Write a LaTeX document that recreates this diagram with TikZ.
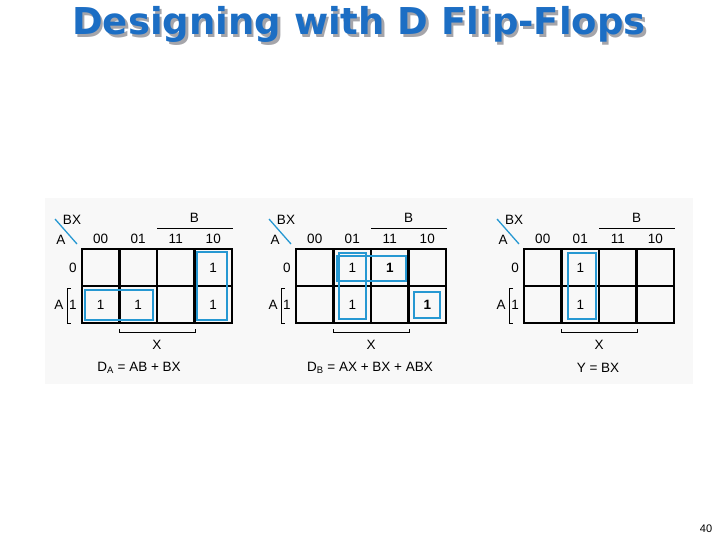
\documentclass[tikz,border=0pt]{standalone}
\usepackage{fontspec}
\setmainfont{Liberation Sans}
\newfontfamily\titlefont{DejaVu Sans}
\definecolor{titleblue}{RGB}{28,110,196}
\definecolor{titleshadow}{RGB}{165,165,170}
\definecolor{grpblue}{RGB}{38,152,210}
\definecolor{panel}{RGB}{248,248,248}
\tikzset{
  lbl/.style={inner sep=0pt, font=\fontsize{13.5}{15}\selectfont},
  bl/.style={inner sep=0pt, font=\fontsize{13.5}{15}\selectfont\bfseries},
  grid/.style={line width=2.6pt, black},
  thin/.style={line width=0.7pt, black},
  grp/.style={draw=grpblue, line width=2.4pt},
}
\newcommand{\kmapframe}[2]{%
  \begin{scope}[shift={(#2,0)}]
    \draw[grid] (0,249) rectangle (150,323);
    \draw[grid] (0,286) -- (150,286);
    \draw[grid] (37.5,249) -- (37.5,323);
    \draw[grid] (75,249) -- (75,323);
    \draw[grid] (112.5,249) -- (112.5,323);
    \node[lbl] (#1c0) at (18.75,239) {00};
    \node[lbl] (#1c1) at (56.25,239) {01};
    \node[lbl] (#1c2) at (93.75,239) {11};
    \node[lbl] (#1c3) at (131.25,239) {10};
    \node[lbl] (#1bx) at (-10,220) {BX};
    \node[lbl] (#1a) at (-21,240) {A};
    \coordinate (#1d1) at (-27,219);
    \coordinate (#1d2) at (-5,244);
    \draw[grpblue, line width=1.3pt] (#1d1) -- (#1d2);
    \node[lbl] (#1b) at (112.5,218) {B};
    \coordinate (#1bl) at (75,228);
    \coordinate (#1br) at (151,228);
    \draw[thin] (#1bl) -- (#1br);
    \node[lbl] (#1r0) at (-9,268) {0};
    \node[lbl] (#1r1) at (-9,305) {1};
    \node[lbl] (#1ar) at (-23,305) {A};
    \coordinate (#1k1) at (-11,288);
    \coordinate (#1k2) at (-11,323);
    \draw[thin] (#1k1) -- ++(-4,0) |- (#1k2);
    \coordinate (#1x1) at (37.5,329);
    \coordinate (#1x2) at (113,329);
    \draw[thin] (#1x1) -- ++(0,3) -| (#1x2);
    \node[lbl] (#1x) at (75,345) {X};
  \end{scope}}
\newcommand{\titletext}{Designing with D Flip-Flops}
\begin{document}
\begin{tikzpicture}[x=1pt,y=-1pt]
\useasboundingbox (0,0) rectangle (720,540);
\fill[white] (0,0) rectangle (720,540);
% title with shadow
\node[inner sep=0pt, font=\titlefont\bfseries\fontsize{37}{40}\selectfont] (title) at (359,26)
  {\rlap{\hspace{2.5pt}\raisebox{-2.5pt}{\textcolor{titleshadow}{\titletext}}}\textcolor{titleblue}{\titletext}};
% panel
\fill[panel] (45,198) rectangle (693,384);
% map 1
\kmapframe{m1}{82}
\begin{scope}[shift={(82,0)}]
  \node[lbl] (m1e03) at (131.25,268) {1};
  \node[lbl] (m1e10) at (18.75,305) {1};
  \node[lbl] (m1e11) at (56.25,305) {1};
  \node[lbl] (m1e13) at (131.25,305) {1};
  \draw[grp] (115,252) rectangle (145,320);
  \draw[grp] (3,290) rectangle (71,320);
  \node[lbl] (m1eq) at (57,368) {D\textsubscript{A} = AB + BX};
\end{scope}
% map 2
\kmapframe{m2}{296}
\begin{scope}[shift={(296,0)}]
  \node[lbl] (m2e01) at (56.25,268) {1};
  \node[bl] (m2e02) at (93.75,268) {1};
  \node[lbl] (m2e11) at (56.25,305) {1};
  \node[bl] (m2e13) at (131.25,305) {1};
  \draw[grp] (43,253) rectangle (70,319);
  \draw[grp] (41,256) rectangle (110,281);
  \draw[grp] (118,292) rectangle (144,318);
  \node[lbl] (m2eq) at (74,368) {D\textsubscript{B} = AX + BX + ABX};
\end{scope}
% map 3
\kmapframe{m3}{524}
\begin{scope}[shift={(524,0)}]
  \node[lbl] (m3e01) at (56.25,268) {1};
  \node[lbl] (m3e11) at (56.25,305) {1};
  \draw[grp] (44,253) rectangle (72,319);
  \node[lbl] (m3eq) at (74,368) {Y = BX};
\end{scope}
% page number
\node[inner sep=0pt, font=\fontsize{11}{12}\selectfont] (pg) at (706,529) {40};
\end{tikzpicture}
\end{document}
